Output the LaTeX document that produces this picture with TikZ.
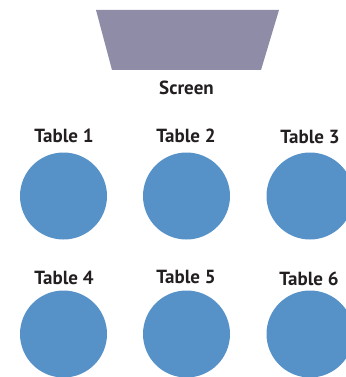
\documentclass[tikz,border=0pt]{standalone}
\usepackage{fontspec}
\setmainfont{PT Sans}
\definecolor{screencol}{RGB}{142,140,167}
\definecolor{tablecol}{RGB}{86,145,200}
\definecolor{txt}{RGB}{35,31,32}
\begin{document}
\begin{tikzpicture}[x=1pt,y=-1pt,
  tbl/.style={circle,fill=tablecol,minimum size=87pt,inner sep=0pt},
  lbl/.style={anchor=base,inner sep=0pt,text=txt,font=\fontsize{19}{22}\selectfont\bfseries}]
\useasboundingbox (0,0) rectangle (345,377);
\fill[screencol] (96,10) -- (279,10) -- (261,70) -- (112,70) -- cycle;
\node[lbl] (screen) at (186.5,95) {Screen};
\node[tbl] (t1) at (63.5,196) {};
\node[tbl] (t2) at (186.5,196) {};
\node[tbl] (t3) at (310,196) {};
\node[tbl] (t4) at (63.5,334) {};
\node[tbl] (t5) at (186.5,334) {};
\node[tbl] (t6) at (310,334) {};
\node[lbl] (l1) at (64,142.3) {Table 1};
\node[lbl] (l2) at (186,142.5) {Table 2};
\node[lbl] (l3) at (310,143.3) {Table 3};
\node[lbl] (l4) at (64,284) {Table 4};
\node[lbl] (l5) at (186,283.7) {Table 5};
\node[lbl] (l6) at (309,285) {Table 6};
\end{tikzpicture}
\end{document}
